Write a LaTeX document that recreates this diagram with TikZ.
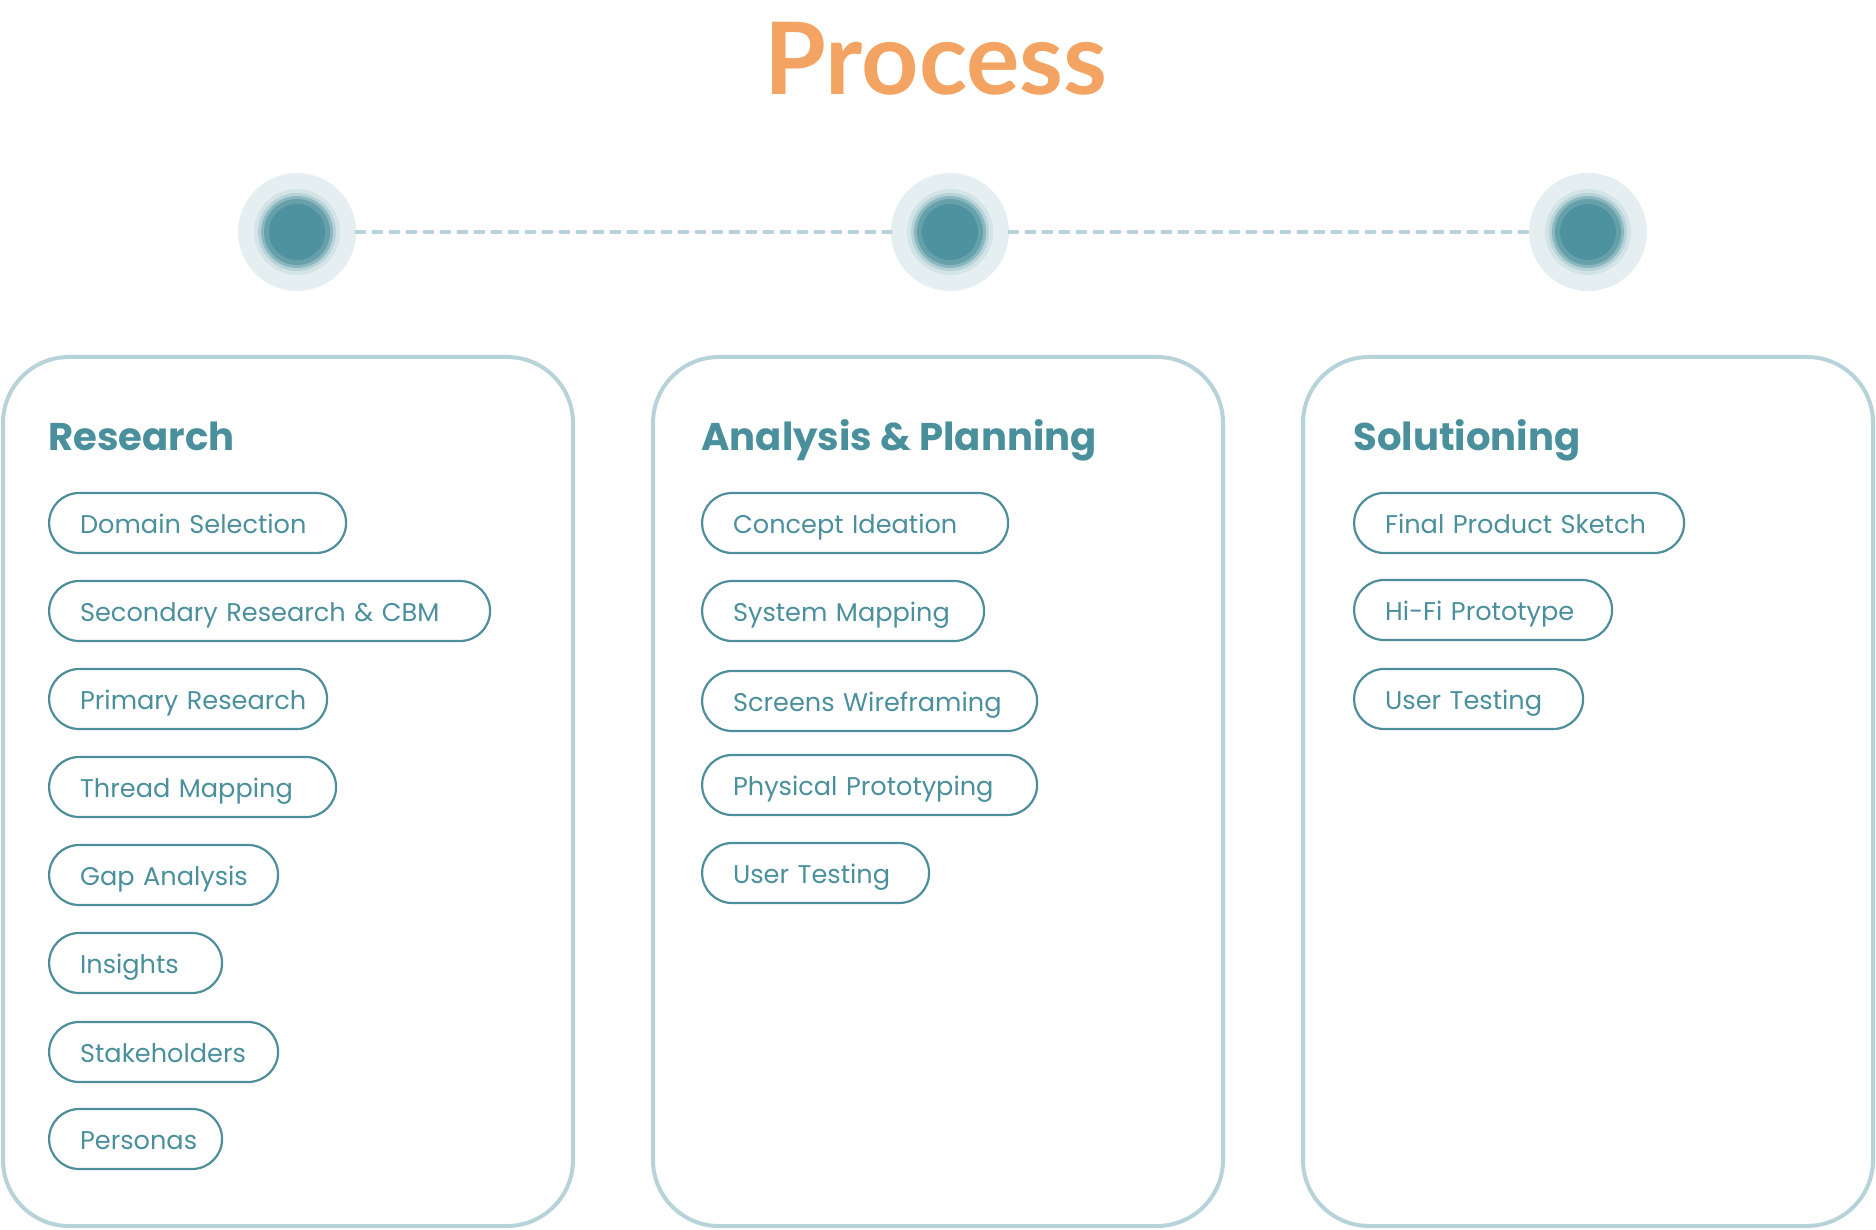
\documentclass[tikz,border=0pt]{standalone}
\usepackage{fontspec}
\setmainfont{Poppins}
\newfontfamily\titlefont{Lato}
\usetikzlibrary{positioning}
\definecolor{tealink}{HTML}{4A8F9C}
\definecolor{pillline}{HTML}{4E8E9B}
\definecolor{panelline}{HTML}{B6D3DA}
\definecolor{dashc}{HTML}{B7D2D8}
\definecolor{halo}{HTML}{E5EFF1}
\definecolor{core}{HTML}{4F929F}
\definecolor{titleorange}{HTML}{F4A462}
\tikzset{
	pill/.style={draw=pillline, line width=1.1pt, rounded corners=15pt, minimum height=30pt,
		inner xsep=15.5pt, inner ysep=0pt, text height=10.4pt, text depth=0pt,
		text width=#1, align=left, anchor=west, text=tealink, font=\fontsize{12.8}{15}\selectfont,
		execute at begin node={\hbox\bgroup}, execute at end node={\egroup}}
}
\tikzset{
	panel/.style={draw=panelline, line width=2pt, rounded corners=33pt},
	phasetitle/.style={anchor=base west, inner sep=0pt, text=tealink, font=\bfseries\fontsize{19.3}{23}\selectfont},
	stage/.style={circle, fill=halo, minimum size=59pt, inner sep=0pt},
	dashline/.style={draw=dashc, line width=2pt, line cap=round, dash pattern=on 4pt off 4.5pt}
}

\begin{document}
\begin{tikzpicture}[x=0.5pt, y=-0.5pt]
      \useasboundingbox (0,0) rectangle (1876,1230);
      \node[anchor=base, inner sep=0pt, text=titleorange, font=\titlefont\bfseries\fontsize{50}{58}\selectfont] (title) at (936,95) {Process};
      % timeline dots
      \foreach \n/\x in {s1/297, s2/950, s3/1588} {
        \node[stage] (\n) at (\x,232) {};
        \fill[core!12!halo] (\n) circle (21.5pt);
        \fill[core!30!halo] (\n) circle (19.5pt);
        \fill[core!60!halo] (\n) circle (18pt);
        \fill[core!85!halo] (\n) circle (16.5pt);
        \fill[core] (\n) circle (14pt);
      }
      \draw[dashline] (s1) -- (s2);
      \draw[dashline] (s2) -- (s3);
      % phase panels
      \draw[panel] (3,357) rectangle (573,1226);
      \draw[panel] (653,357) rectangle (1223,1226);
      \draw[panel] (1303,357) rectangle (1873,1226);
      \node[phasetitle] (research) at (48,451) {Research};
      \node[phasetitle] (analysis) at (701,451) {Analysis \& Planning};
      \node[phasetitle] (solution) at (1353,451) {Solutioning};
      % research steps
      \node[pill=117.5pt] (rs1) at (48,523) {Domain Selection};
      \node[pill=189.5pt] (rs2) at (48,611) {Secondary Research \& CBM};
      \node[pill=108pt] (rs3) at (48,699) {Primary Research};
      \node[pill=112.5pt] (rs4) at (48,787) {Thread Mapping};
      \node[pill=83.5pt] (rs5) at (48,875) {Gap Analysis};
      \node[pill=55.5pt] (rs6) at (48,963) {Insights};
      \node[pill=83.5pt] (rs7) at (48,1052) {Stakeholders};
      \node[pill=55.5pt] (rs8) at (48,1139) {Personas};
      % analysis steps
      \node[pill=122pt] (ap1) at (701,523) {Concept Ideation};
      \node[pill=110pt] (ap2) at (701,611) {System Mapping};
      \node[pill=136.5pt] (ap3) at (701,701) {Screens Wireframing};
      \node[pill=136.5pt] (ap4) at (701,785) {Physical Prototyping};
      \node[pill=82.5pt] (ap5) at (701,873) {User Testing};
      % solutioning steps
      \node[pill=134pt] (so1) at (1353,523) {Final Product Sketch};
      \node[pill=98pt] (so2) at (1353,610) {Hi-Fi Prototype};
      \node[pill=83.5pt] (so3) at (1353,699) {User Testing};
    \end{tikzpicture}
\end{document}
